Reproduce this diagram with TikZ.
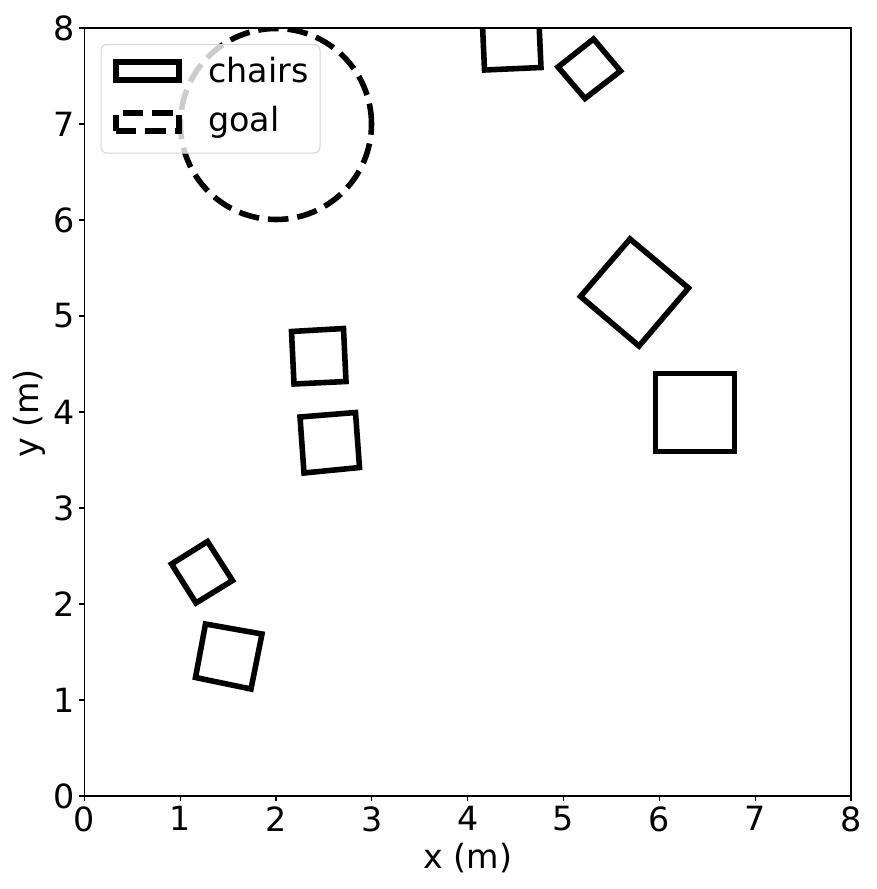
\documentclass[tikz,border=0pt]{standalone}
\usepackage{fontspec}
\setmainfont{DejaVu Sans}
\definecolor{legedge}{RGB}{214,214,214}
\begin{document}
\begin{tikzpicture}[x=0.75pt,y=-0.75pt,
  lbl/.style={font=\fontsize{25}{30}\selectfont, inner sep=0pt, text=black},
  chair/.style={draw=black, line width=4.17pt},
  goalline/.style={draw=black, line width=4.17pt, dash pattern=on 15.4pt off 6.7pt},
  spine/.style={draw=black, line width=0.83pt},
  ticksty/.style={draw=black, line width=0.83pt},
  legframe/.style={draw=legedge, line width=0.75pt, rounded corners=4.5pt}]
\useasboundingbox (0,0) rectangle (877,889);
\fill[white] (0,0) rectangle (877,889);
% data area
\begin{scope}
\clip (84.3,28) rectangle (851,796);
\draw[chair] (484.5,70) -- (541,67.5) -- (538.5,11.5) -- (482,14) -- cycle;
\draw[chair] (593.5,39) -- (620.5,71) -- (585,98.5) -- (558,67) -- cycle;
\draw[chair] (630,239) -- (688.5,288) -- (639,346) -- (580.5,296.5) -- cycle;
\draw[chair] (655.5,373.5) -- (734.5,373.5) -- (734.5,451.5) -- (655.5,451.5) -- cycle;
\draw[chair] (291.5,331.5) -- (343.5,328.5) -- (346,381.5) -- (294,384) -- cycle;
\draw[chair] (300,417) -- (355.5,412.5) -- (359.5,467.5) -- (304,473) -- cycle;
\draw[chair] (207.5,541.5) -- (232.5,580.5) -- (196,603) -- (171.5,564) -- cycle;
\draw[chair] (205.5,624) -- (262,634) -- (251,689) -- (195.5,677.5) -- cycle;
\draw[goalline] (371.5,124) arc[start angle=0, end angle=-360, radius=95.5];
\end{scope}
% spines
\draw[spine] (84.3,28) rectangle (851,796);
% ticks and tick labels
\foreach \i in {0,...,8} {
  \pgfmathsetmacro\xx{84.3+95.84*\i}
  \pgfmathsetmacro\yy{796-96*\i}
  \draw[ticksty] (\xx,796) -- (\xx,800.9);
  \draw[ticksty] (84.3,\yy) -- (79.4,\yy);
  \node[lbl, anchor=north] (xt\i) at (\xx,806) {\i};
  \node[lbl, anchor=east] (yt\i) at (74.5,\yy) {\i};
}
% axis labels
\node[lbl, anchor=base] (xlab) at (467.7,868.6) {x (m)};
\node[lbl, anchor=base, rotate=90] (ylab) at (38.3,413.4) {y (m)};
% legend
\fill[white, opacity=0.8, rounded corners=4.5pt] (101,44.5) rectangle (320,153);
\draw[legframe] (101,44.5) rectangle (320,153);
\draw[chair] (115.8,80.2) -- (179.2,80.2) -- (179.2,61.8) -- (115.8,61.8) -- cycle;
\draw[goalline] (115.8,131.2) -- (179.2,131.2) -- (179.2,112.8) -- (115.8,112.8) -- cycle;
\node[lbl, anchor=base west] (lchairs) at (208,82.5) {chairs};
\node[lbl, anchor=base west] (lgoal) at (208,131.5) {goal};
\end{tikzpicture}
\end{document}
